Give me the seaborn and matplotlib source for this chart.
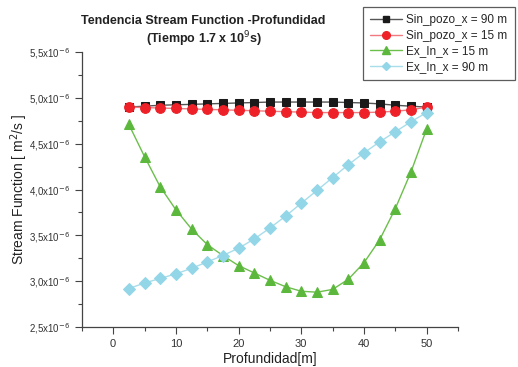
import numpy as np
import pandas as pd
import matplotlib
matplotlib.use("Agg")
import matplotlib.pyplot as plt
from matplotlib.ticker import FixedLocator, MultipleLocator
import seaborn as sns

sns.set_style("ticks")
plt.rcParams['font.family'] = ['Liberation Sans', 'DejaVu Sans']

profundidad = [2.5, 5, 7.5, 10, 12.5, 15, 17.5, 20, 22.5, 25, 27.5, 30, 32.5, 35, 37.5, 40, 42.5, 45, 47.5, 50]
sin_pozo_90 = [4.90, 4.91, 4.92, 4.925, 4.93, 4.935, 4.94, 4.945, 4.95, 4.955, 4.955, 4.955, 4.955, 4.955,
               4.95, 4.945, 4.935, 4.92, 4.91, 4.90]
sin_pozo_15 = [4.90, 4.895, 4.89, 4.885, 4.88, 4.875, 4.87, 4.865, 4.86, 4.855, 4.85, 4.845, 4.84, 4.84,
               4.84, 4.84, 4.845, 4.855, 4.87, 4.90]
ex_in_15 = [4.71, 4.36, 4.03, 3.78, 3.57, 3.40, 3.28, 3.17, 3.09, 3.01, 2.94, 2.89, 2.88, 2.91,
            3.02, 3.20, 3.45, 3.79, 4.19, 4.66]
ex_in_90 = [2.92, 2.98, 3.03, 3.08, 3.14, 3.21, 3.28, 3.36, 3.46, 3.58, 3.71, 3.85, 3.99, 4.13,
            4.27, 4.40, 4.52, 4.63, 4.74, 4.84]
series_names = ["Sin_pozo_x = 90 m", "Sin_pozo_x = 15 m", "Ex_In_x = 15 m", "Ex_In_x = 90 m"]
y_ticks = [2.5, 3.0, 3.5, 4.0, 4.5, 5.0, 5.5]
y_tick_labels = [r"2,5x10$^{-6}$", r"3,0x10$^{-6}$", r"3,5x10$^{-6}$", r"4,0x10$^{-6}$",
                 r"4,5x10$^{-6}$", r"5,0x10$^{-6}$", r"5,5x10$^{-6}$"]

scale = 1e-6
df = pd.DataFrame({
    "x": profundidad * 4,
    "y": [v * scale for v in sin_pozo_90 + sin_pozo_15 + ex_in_15 + ex_in_90],
    "serie": sum([[n] * len(profundidad) for n in series_names], []),
})

colors = ["#1a1a1a", "#ee2028", "#5cb83c", "#93d6e8"]
line_colors = ["#555555", "#f07a80", "#6cbf4c", "#a8dde9"]
markers = ["s", "o", "^", "D"]
msizes = [6, 7, 7, 6]

fig = plt.figure(figsize=(5.18, 3.67), dpi=100)
ax = fig.add_axes([0.158, 0.109, 0.726, 0.749])

handles = []
for i, name in enumerate(series_names):
    sub = df[df["serie"] == name]
    sns.lineplot(data=sub, x="x", y="y", ax=ax, color=line_colors[i], linewidth=1.0,
                 marker=markers[i], markersize=msizes[i], markerfacecolor=colors[i],
                 markeredgecolor=colors[i], label=name, legend=False)
    h, = ax.plot([], [], color=line_colors[i], linewidth=1.0, marker=markers[i],
                 markersize=msizes[i] - 1.5, markerfacecolor=colors[i], markeredgecolor=colors[i])
    handles.append(h)

ax.set_xlim(-5, 55)
ax.set_ylim(2.5e-6, 5.5e-6)
ax.xaxis.set_major_locator(FixedLocator([0, 10, 20, 30, 40, 50]))
ax.xaxis.set_minor_locator(FixedLocator([-5, 5, 15, 25, 35, 45, 55]))
ax.set_yticks([v * scale for v in y_ticks])
ax.set_yticklabels(y_tick_labels)
ax.yaxis.set_minor_locator(MultipleLocator(0.25e-6))
ax.tick_params(axis="both", which="major", direction="out", length=5, width=0.8, labelsize=7, colors="#444444",
               labelcolor="#333333")
ax.tick_params(axis="both", which="minor", direction="out", length=3, width=0.8, colors="#444444")
ax.tick_params(axis="x", labelsize=8)
for side in ["top", "right"]:
    ax.spines[side].set_visible(False)
for side in ["left", "bottom"]:
    ax.spines[side].set_color("#444444")
    ax.spines[side].set_linewidth(0.9)

ax.set_xlabel("Profundidad[m]", fontsize=10, color="#222222", labelpad=2)
ax.set_ylabel(r"Stream Function [ m$^2$/s ]", fontsize=10, color="#222222")
ax.yaxis.set_label_coords(-0.138, 0.5)

fig.text(0.393, 0.943, "Tendencia Stream Function -Profundidad", ha="center", va="center",
         fontsize=9, fontweight="bold", color="#222222")
fig.text(0.393, 0.892, r"(Tiempo 1.7 x 10$^{9}$s)", ha="center", va="center",
         fontsize=9, fontweight="bold", color="#222222")

leg = fig.legend(handles, series_names, loc="upper left", bbox_to_anchor=(0.70, 0.98),
                 frameon=True, fancybox=False, fontsize=8.5, handlelength=2.7, handletextpad=0.4,
                 borderpad=0.6, labelspacing=0.3, borderaxespad=0)
leg.get_frame().set_edgecolor("#333333")
leg.get_frame().set_linewidth(0.9)

fig.savefig("out.png", dpi=100)
